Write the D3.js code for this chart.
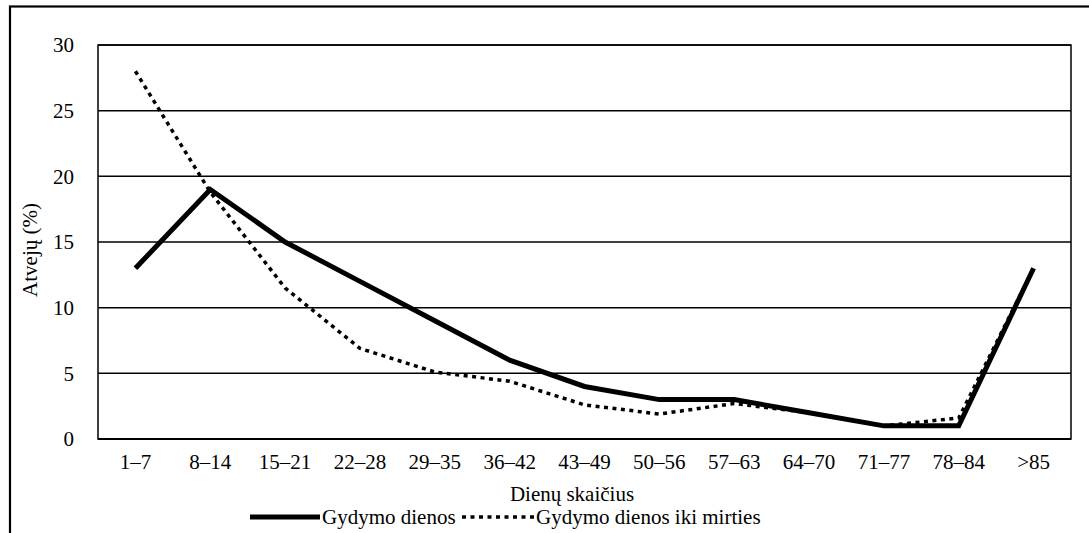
<!DOCTYPE html>
<html><head><meta charset="utf-8">
<script src="https://cdn.jsdelivr.net/npm/d3@7"></script>
<style>html,body{margin:0;padding:0;background:#fff;}</style></head>
<body><svg id="c" width="1089" height="533"></svg>
<script>
const categories = ["1–7","8–14","15–21","22–28","29–35","36–42","43–49","50–56","57–63","64–70","71–77","78–84",">85"];
const gydymoDienos = [13,19,15,12,9,6,4,3,3,2,1,1,13];
const ikiMirties = [28,18.8,11.5,6.9,5.1,4.4,2.6,1.9,2.7,2,1,1.6,13];
const yTicks = [0,5,10,15,20,25,30];
const seriesNames = ["Gydymo dienos","Gydymo dienos iki mirties"];

const FONT = "Liberation Serif";
const FS = 21;
const svg = d3.select("#c");
const L = 98, R = 1071, T = 45, B = 439;

function serif(sel){
  sel.attr("font-family",FONT).attr("font-size",FS).attr("fill","#000")
     .style("font-family","'Liberation Serif', serif","important")
     .style("font-size",FS+"px","important");
  return sel;
}

// outer frame
svg.append("rect").attr("x",10).attr("y",6.5).attr("width",1200).attr("height",700)
  .attr("fill","none").attr("stroke","#000").attr("stroke-width",2.2);

const x = d3.scaleBand().domain(categories).range([L,R]).paddingInner(0).paddingOuter(0);
const y = d3.scaleLinear().domain([0,30]).range([B,T]);
const cx = c => x(c) + x.bandwidth()/2;

// gridlines
svg.append("g").selectAll("line").data(yTicks).join("line")
  .attr("x1",L).attr("x2",R).attr("y1",d=>y(d)).attr("y2",d=>y(d))
  .attr("stroke","#000").attr("stroke-width",d=>d===0?2:1.5);
// plot border
svg.append("rect").attr("x",L).attr("y",T).attr("width",R-L).attr("height",B-T)
  .attr("fill","none").attr("stroke","#000").attr("stroke-width",1.5);

// y axis labels
const ya = d3.axisLeft(y).tickValues(yTicks).tickSize(0).tickPadding(24);
const gy = svg.append("g").attr("transform",`translate(${L},0)`).call(ya);
gy.select(".domain").remove();
serif(gy.selectAll("text")).attr("dy","0.32em");

// x axis labels
const xa = d3.axisBottom(x).tickSize(0).tickPadding(15);
const gx = svg.append("g").attr("transform",`translate(0,${B})`).call(xa);
gx.select(".domain").remove();
serif(gx.selectAll("text"));

// axis titles
serif(svg.append("text").attr("transform","translate(37,250) rotate(-90)")
  .attr("text-anchor","middle")).text("Atvejų (%)");
serif(svg.append("text").attr("x",572).attr("y",501).attr("text-anchor","middle")).text("Dienų skaičius");

// lines
const line = d3.line().x((d,i)=>cx(categories[i])).y(d=>y(d));
svg.append("path").datum(ikiMirties).attr("d",line).attr("fill","none")
  .attr("stroke","#000").attr("stroke-width",3.5).attr("stroke-dasharray","4,4.5");
svg.append("path").datum(gydymoDienos).attr("d",line).attr("fill","none")
  .attr("stroke","#000").attr("stroke-width",5).attr("stroke-linejoin","miter");

// legend
const lg = svg.append("g");
lg.append("line").attr("x1",250).attr("x2",320).attr("y1",517).attr("y2",517)
  .attr("stroke","#000").attr("stroke-width",5);
serif(lg.append("text").attr("x",322).attr("y",524)).text(seriesNames[0]);
lg.append("line").attr("x1",462).attr("x2",535).attr("y1",517).attr("y2",517)
  .attr("stroke","#000").attr("stroke-width",3.5).attr("stroke-dasharray","4,4.5");
serif(lg.append("text").attr("x",536).attr("y",524)).text(seriesNames[1]);
</script></body></html>
